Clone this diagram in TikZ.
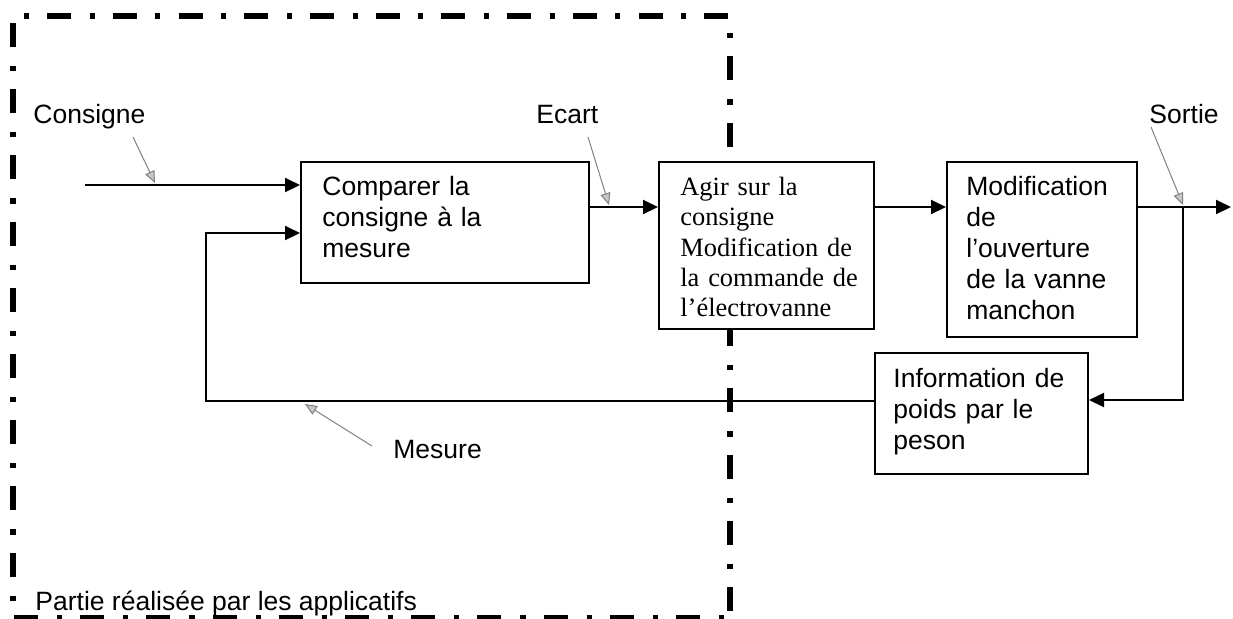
\documentclass[tikz,border=0pt]{standalone}
\usepackage{fontspec}
\setmainfont{Liberation Sans}
\newfontfamily\serifT{Liberation Serif}
\usetikzlibrary{arrows.meta}
\begin{document}
\begin{tikzpicture}[x=0.5pt,y=-0.5pt,
  box/.style={draw, fill=white, line width=1pt, rectangle, inner sep=0pt, anchor=north west},
  txt/.style={inner sep=0pt, anchor=north west, align=left, font=\fontsize{13.25}{15.5}\selectfont},
  stxt/.style={inner sep=0pt, anchor=north west, align=left, font=\serifT\fontsize{13.2}{15.2}\selectfont},
  lbl/.style={inner sep=0pt, anchor=base west, font=\fontsize{13.25}{15.5}\selectfont},
  flow/.style={line width=1pt, -{Triangle[length=7.5pt,width=7pt]}},
  pointer/.style={draw=gray, line width=0.5pt, -{Triangle[length=6pt,width=5pt,fill=gray!45]}},
  frame/.style={line width=2.75pt, line cap=butt}
]
\useasboundingbox (0,0) rectangle (1233,618);

% dash-dot frame
\draw[frame, dash pattern=on 2.5pt off 9.1pt on 12pt off 9.25pt] (24,16) -- (729,16);
\draw[frame, dash pattern=on 12pt off 9.5pt on 2.6pt off 9pt] (13,23) -- (13,604);
\draw[frame, dash pattern=on 2.6pt off 9pt on 12pt off 9.6pt] (730,33) -- (730,613);
\draw[frame, dash pattern=on 12pt off 9.5pt on 2.6pt off 9pt] (14,617.5) -- (730,617.5);

% boxes
\node[box, minimum width=144pt, minimum height=60.5pt] (b1) at (300,161) {};
\node[box, minimum width=107.5pt, minimum height=83.5pt] (b2) at (658,161) {};
\node[box, minimum width=95pt, minimum height=87.5pt] (b3) at (946,161) {};
\node[box, minimum width=106.5pt, minimum height=60.5pt] (info) at (874,352) {};

% box texts
\node[txt, text width=135pt] (t1) at (322,173.3) {\strut Comparer la\\consigne à la\\mesure};
\node[stxt, text width=100pt] (t2) at (680,173.7) {\strut Agir sur la\\consigne\\Modification de\\la commande de\\l’électrovanne};
\node[txt, text width=85pt] (t3) at (966,173.3) {\strut Modification\\de\\l’ouverture\\de la vanne\\manchon};
\node[txt, text width=95pt] (t4) at (893,365.3) {\strut Information de\\poids par le\\peson};

% labels
\node[lbl] (lc) at (33,123) {Consigne};
\node[lbl] (le) at (536,123) {Ecart};
\node[lbl] (ls) at (1149,123) {Sortie};
\node[lbl] (lm) at (393,458) {Mesure};
\node[lbl] (lp) at (35,610) {Partie réalisée par les applicatifs};

% connectors
\coordinate (cin) at (85,185);
\coordinate (ym) at (0,207);
\coordinate (out) at (1231,207);
\coordinate (br) at (1183,207);
\coordinate (fb) at (0,400);
\coordinate (fl) at (206,401);
\coordinate (fin) at (0,233);
\draw[flow] (cin) -- (b1.west |- cin);
\draw[flow] (b1.east |- ym) -- (b2.west |- ym);
\draw[flow] (b2.east |- ym) -- (b3.west |- ym);
\draw[flow] (b3.east |- ym) -- (out);
\draw[flow] (br) -- (br |- fb) -- (info.east |- fb);
\draw[flow] (info.west |- fl) -- (fl) -- (fl |- fin) -- (b1.west |- fin);

% grey pointers
\coordinate (pc1) at (133,137); \coordinate (pc2) at (155,183);
\coordinate (pe1) at (588,137); \coordinate (pe2) at (609,205);
\coordinate (ps1) at (1151,127); \coordinate (ps2) at (1183,205);
\coordinate (pm1) at (372,446); \coordinate (pm2) at (305,404);
\draw[pointer] (pc1) -- (pc2);
\draw[pointer] (pe1) -- (pe2);
\draw[pointer] (ps1) -- (ps2);
\draw[pointer] (pm1) -- (pm2);
\end{tikzpicture}
\end{document}
